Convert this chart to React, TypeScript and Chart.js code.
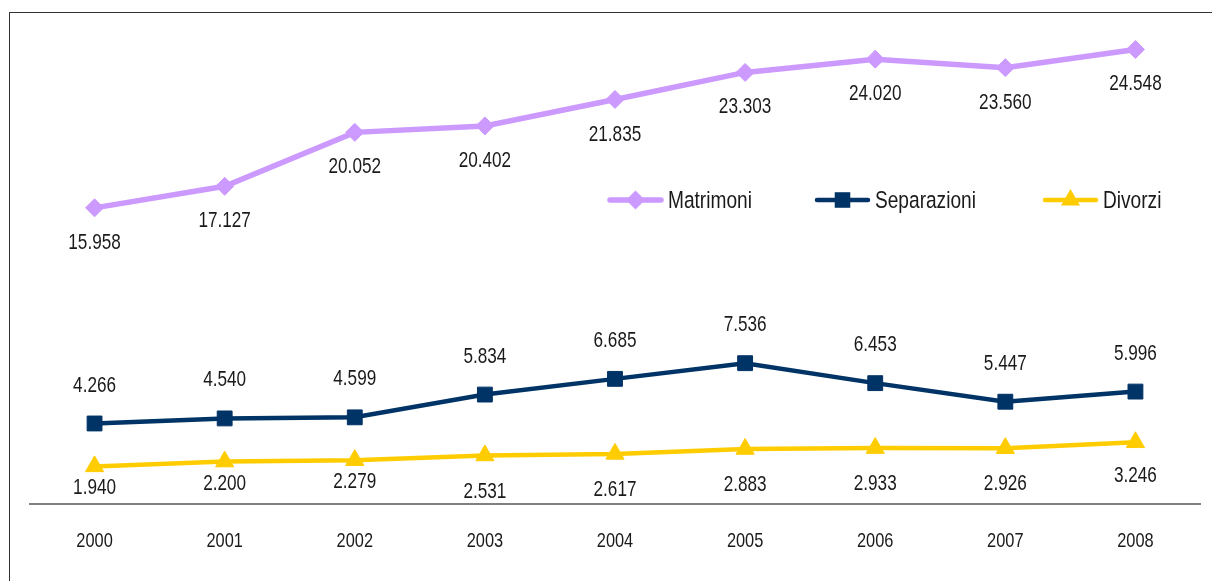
import React, { useEffect, useRef } from 'react';
import { Chart, registerables } from 'chart.js';

Chart.register(...registerables);

const years = ['2000', '2001', '2002', '2003', '2004', '2005', '2006', '2007', '2008'];
const matrimoni = [15958, 17127, 20052, 20402, 21835, 23303, 24020, 23560, 24548];
const separazioni = [4266, 4540, 4599, 5834, 6685, 7536, 6453, 5447, 5996];
const divorzi = [1940, 2200, 2279, 2531, 2617, 2883, 2933, 2926, 3246];
const seriesNames = ['Matrimoni', 'Separazioni', 'Divorzi'];

const COLORS = ['#CC99FF', '#003366', '#FFCC00'];
const FONT = "'Liberation Sans', Arial, sans-serif";
const XSCALE = 0.78; // horizontal squeeze to mimic a narrow face
const TEXT_COLOR = '#1a1a1a';

// label offsets (px) relative to each point: positive = below
const labelOffsetMatrimoni = [35, 35, 35, 35, 35, 35, 35, 35, 35];
const labelOffsetSeparazioni = [-38, -38, -38, -38, -38, -38, -38, -38, -38];
const labelOffsetDivorzi = [22, 22, 22, 36, 36, 36, 36, 36, 34];
const labelOffsets = [labelOffsetMatrimoni, labelOffsetSeparazioni, labelOffsetDivorzi];

const fmt = (v: number) => String(v).replace(/\B(?=(\d{3})+(?!\d))/g, '.');

function narrowText(
  ctx: CanvasRenderingContext2D,
  text: string,
  x: number,
  y: number,
  size: number,
  align: CanvasTextAlign
) {
  ctx.save();
  ctx.font = `${size}px ${FONT}`;
  ctx.fillStyle = TEXT_COLOR;
  ctx.textAlign = align;
  ctx.textBaseline = 'middle';
  ctx.translate(x, y);
  ctx.scale(XSCALE, 1);
  ctx.fillText(text, 0, 0);
  ctx.restore();
}

function drawMarker(ctx: CanvasRenderingContext2D, kind: string, x: number, y: number, r: number) {
  ctx.beginPath();
  if (kind === 'rectRot') {
    ctx.moveTo(x, y - r);
    ctx.lineTo(x + r, y);
    ctx.lineTo(x, y + r);
    ctx.lineTo(x - r, y);
  } else if (kind === 'rect') {
    const s = r * Math.SQRT1_2;
    ctx.rect(x - s, y - s, 2 * s, 2 * s);
  } else {
    const h = r * 1.5;
    const w = r * Math.sqrt(3) / 2;
    ctx.moveTo(x, y - r);
    ctx.lineTo(x + w, y - r + h);
    ctx.lineTo(x - w, y - r + h);
  }
  ctx.closePath();
  ctx.fill();
}

const valueLabels = {
  id: 'valueLabels',
  afterDatasetsDraw(chart: any) {
    const ctx = chart.ctx as CanvasRenderingContext2D;
    chart.data.datasets.forEach((ds: any, di: number) => {
      const meta = chart.getDatasetMeta(di);
      meta.data.forEach((pt: any, i: number) => {
        narrowText(ctx, fmt(ds.data[i]), pt.x, pt.y + labelOffsets[di][i], 22, 'center');
      });
    });
  },
};

const xTickLabels = {
  id: 'xTickLabels',
  afterDraw(chart: any) {
    const ctx = chart.ctx as CanvasRenderingContext2D;
    const xs = chart.scales.x;
    xs.ticks.forEach((t: any, i: number) => {
      narrowText(ctx, String(xs.getLabelForValue(t.value)), xs.getPixelForTick(i), chart.chartArea.bottom + 37, 21, 'center');
    });
  },
};

const legendStarts = [598, 805, 1033];
const legendY = 187;

const customLegend = {
  id: 'customLegend',
  afterDraw(chart: any) {
    const ctx = chart.ctx as CanvasRenderingContext2D;
    chart.data.datasets.forEach((ds: any, di: number) => {
      const x0 = legendStarts[di];
      ctx.save();
      ctx.strokeStyle = ds.borderColor;
      ctx.fillStyle = ds.borderColor;
      ctx.lineWidth = ds.borderWidth;
      ctx.lineCap = 'round';
      ctx.beginPath();
      ctx.moveTo(x0 + 2, legendY);
      ctx.lineTo(x0 + 53, legendY);
      ctx.stroke();
      drawMarker(ctx, ds.pointStyle, x0 + 27.5, legendY, ds.pointRadius + 0.5);
      ctx.restore();
      narrowText(ctx, ds.label, x0 + 60, legendY + 1, 24.5, 'left');
    });
  },
};

export default function App() {
  const ref = useRef<HTMLCanvasElement | null>(null);

  useEffect(() => {
    if (!ref.current) return;
    const chart = new Chart(ref.current, {
      type: 'line',
      data: {
        labels: years,
        datasets: [
          {
            label: seriesNames[0],
            data: matrimoni,
            borderColor: COLORS[0],
            backgroundColor: COLORS[0],
            borderWidth: 5.5,
            pointStyle: 'rectRot',
            pointRadius: 9,
            pointBorderWidth: 1,
            tension: 0,
          },
          {
            label: seriesNames[1],
            data: separazioni,
            borderColor: COLORS[1],
            backgroundColor: COLORS[1],
            borderWidth: 4.5,
            pointStyle: 'rect',
            pointRadius: 10.5,
            pointBorderWidth: 1,
            tension: 0,
          },
          {
            label: seriesNames[2],
            data: divorzi,
            borderColor: COLORS[2],
            backgroundColor: COLORS[2],
            borderWidth: 4.5,
            pointStyle: 'triangle',
            pointRadius: 10.5,
            pointBorderWidth: 1,
            tension: 0,
          },
        ],
      },
      options: {
        animation: false,
        responsive: true,
        maintainAspectRatio: false,
        layout: { padding: { left: 19.5, right: 0, top: 6, bottom: 77 } },
        plugins: {
          legend: { display: false },
          tooltip: { enabled: false },
        },
        scales: {
          x: {
            offset: true,
            grid: { display: false, drawTicks: false },
            border: { display: true, color: '#808080', width: 2 },
            ticks: { display: false },
          },
          y: {
            display: false,
            min: -100,
            max: 25900,
          },
        },
      },
      plugins: [valueLabels, xTickLabels, customLegend],
    });
    return () => chart.destroy();
  }, []);

  return (
    <div
      style={{
        position: 'absolute',
        left: 9,
        top: 12,
        width: 1202,
        height: 568,
        borderTop: '1px solid #333',
        borderLeft: '1px solid #333',
        background: '#fff',
      }}
    >
      <div style={{ position: 'relative', width: 1202, height: 568 }}>
        <canvas ref={ref} />
      </div>
    </div>
  );
}
